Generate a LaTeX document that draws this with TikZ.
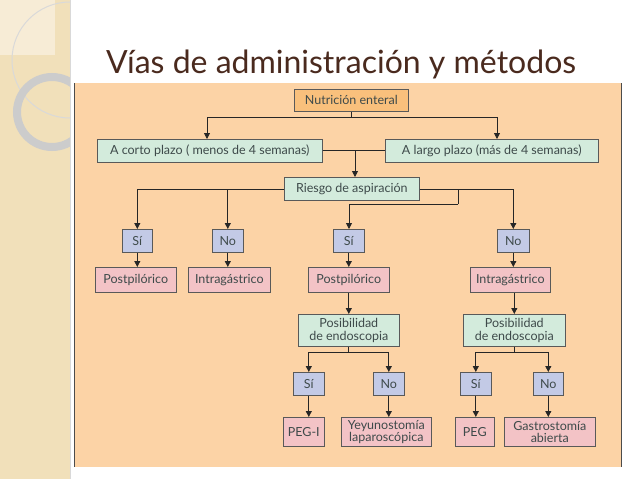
\documentclass[tikz,border=0pt]{standalone}
\usepackage{fontspec}
\setmainfont{Lato}
\usetikzlibrary{arrows.meta}
\definecolor{bgpeach}{HTML}{FCD3A6}
\definecolor{gbox}{HTML}{D3EBDC}
\definecolor{bbox}{HTML}{C3CAE6}
\definecolor{pbox}{HTML}{F3C3C6}
\definecolor{obox}{HTML}{F9C07C}
\definecolor{txt}{HTML}{3E4A4A}
\definecolor{ttl}{HTML}{4A2A1E}
\definecolor{side}{HTML}{F1E0BA}
\tikzset{
  bx/.style={draw=black!65, line width=0.6pt, text=txt, font=\fontsize{12.5}{12.5}\selectfont, align=center, inner sep=0pt, anchor=north west},
  ar/.style={draw=black!85, line width=0.8pt, -{Triangle[length=6pt,width=6pt]}},
  ln/.style={draw=black!85, line width=0.8pt}
}
\newcommand{\bxat}[7]{\node[bx, fill=#7, minimum width=#4pt-#2pt, minimum height=#5pt-#3pt] (#1) at (#2,#3) {#6};}
\begin{document}
\begin{tikzpicture}[x=1pt,y=-1pt]
\useasboundingbox (0,0) rectangle (638,479);
\fill[white] (0,0) rectangle (638,479);
\fill[side] (0,0) rectangle (70,479);
\begin{scope}
\clip (0,0) rectangle (70,479);
\fill[white!40!side] (0,0) rectangle (55,55);
\draw[white!85!black, line width=1pt] (70,60) circle (58);
\draw[white!80!black, line width=8pt] (52,112) circle (35);
\end{scope}
\draw[black!15, line width=1pt] (70,0) -- (70,479);
\node[anchor=base west, text=ttl, font=\fontsize{32}{36}\selectfont, inner sep=0pt] (title) at (106,73) {Vías de administración y métodos};
\fill[bgpeach] (74,83) rectangle (621,467);
\draw[black!70, line width=0.8pt] (74,83) -- (74,467);
\draw[black!70, line width=0.8pt] (621,83) -- (621,467);
% boxes
\bxat{nut}{294}{89}{408}{111}{Nutrición enteral}{obox}
\bxat{cor}{97}{139}{322}{162}{A corto plazo ( menos de 4 semanas)}{gbox}
\bxat{lar}{385}{139}{598}{162}{A largo plazo (más de 4 semanas)}{gbox}
\bxat{rie}{284}{177}{419}{200}{Riesgo de aspiración}{gbox}
\bxat{s1}{122}{229}{152}{252}{Sí}{bbox}
\bxat{n1}{212}{229}{243}{252}{No}{bbox}
\bxat{s2}{333}{229}{364}{252}{Sí}{bbox}
\bxat{n2}{497}{229}{529}{252}{No}{bbox}
\bxat{p1}{95}{267}{176}{292}{Postpilórico}{pbox}
\bxat{i1}{188}{267}{270}{292}{Intragástrico}{pbox}
\bxat{p2}{308}{267}{389}{292}{Postpilórico}{pbox}
\bxat{i2}{470}{267}{550}{292}{Intragástrico}{pbox}
\bxat{e1}{298}{314}{399}{346}{Posibilidad\\de endoscopia}{gbox}
\bxat{e2}{463}{314}{565}{346}{Posibilidad\\de endoscopia}{gbox}
\bxat{s3}{293}{372}{324}{395}{Sí}{bbox}
\bxat{n3}{373}{372}{404}{395}{No}{bbox}
\bxat{s4}{460}{372}{491}{395}{Sí}{bbox}
\bxat{n4}{533}{372}{563}{395}{No}{bbox}
\bxat{peg1}{283}{417}{324}{446}{PEG-I}{pbox}
\bxat{yey}{341}{417}{431}{446}{Yeyunostomía\\laparoscópica}{pbox}
\bxat{peg}{455}{417}{494}{446}{PEG}{pbox}
\bxat{gas}{504}{417}{595}{446}{Gastrostomía\\abierta}{pbox}
% connectors
\coordinate (j0) at (nut.south |- 0,117);
\draw[ln] (nut.south) -- (j0);
\draw[ar] (j0) -| (cor.north -| 207,0);
\draw[ar] (j0) -| (lar.north -| 497,0);
\draw[ln] (cor.east |- 0,150) -- (lar.west |- 0,150);
\draw[ar] (355,150) -- (rie.north -| 355,0);
\draw[ar] (rie.west |- 0,189) -| (s1.north);
\draw[ar] (n1.north |- 0,189) -- (n1.north);
\draw[ar] (rie.east |- 0,189) -| (n2.north);
\draw[ln] (458,189) -- (458,204);
\draw[ar] (458,204) -| (s2.north -| 349,0);
\draw[ar] (s1) -- (p1.north -| s1.south);
\draw[ar] (n1) -- (i1.north -| n1.south);
\draw[ar] (s2) -- (p2.north -| s2.south);
\draw[ar] (n2) -- (i2.north -| n2.south);
\draw[ar] (p2.south -| e1.north) -- (e1.north);
\draw[ar] (i2.south -| e2.north) -- (e2.north);
\draw[ln] (e1.south) -- (e1.south |- 0,352);
\draw[ar] (e1.south |- 0,352) -| (s3.north);
\draw[ar] (e1.south |- 0,352) -| (n3.north);
\draw[ln] (e2.south) -- (e2.south |- 0,352);
\draw[ar] (e2.south |- 0,352) -| (s4.north);
\draw[ar] (e2.south |- 0,352) -| (n4.north);
\draw[ar] (s3) -- (peg1.north -| s3.south);
\draw[ar] (n3) -- (yey.north -| n3.south);
\draw[ar] (s4) -- (peg.north -| s4.south);
\draw[ar] (n4) -- (gas.north -| n4.south);
\end{tikzpicture}
\end{document}
